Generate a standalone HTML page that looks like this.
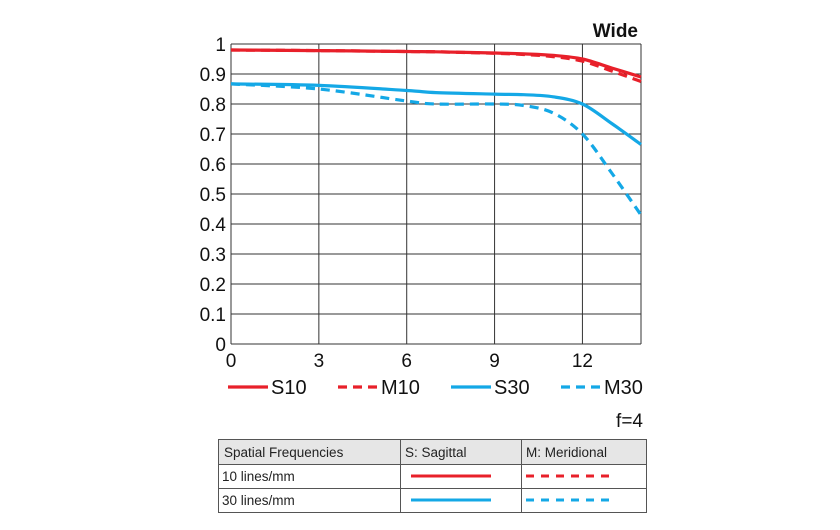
<!DOCTYPE html>
<html><head><meta charset="utf-8"><style>
body{margin:0;background:#fff;width:840px;height:530px;overflow:hidden;font-family:"Liberation Sans","DejaVu Sans",sans-serif}
svg{display:block}
</style></head><body>
<svg id="c" width="840" height="530"></svg>
<script>
const xTicks=[0,3,6,9,12];
const yTicks=[0,0.1,0.2,0.3,0.4,0.5,0.6,0.7,0.8,0.9,1];
const yLabels=["0","0.1","0.2","0.3","0.4","0.5","0.6","0.7","0.8","0.9","1"];
const xs=[0,3,6,7,9,10,11,12,13,14];
const s10=[0.98,0.978,0.975,0.974,0.97,0.967,0.962,0.95,0.92,0.89];
const m10=[0.98,0.978,0.975,0.974,0.969,0.965,0.958,0.943,0.91,0.875];
const s30=[0.867,0.862,0.845,0.838,0.833,0.831,0.824,0.8,0.735,0.665];
const m30=[0.867,0.85,0.81,0.8,0.8,0.795,0.77,0.7,0.57,0.43];
const L=231,R=641,T=44,B=344,XMAX=14;
const sx=v=>L+v*(R-L)/XMAX, sy=v=>B-v*(B-T);
const svg=document.getElementById('c');const NS='http://www.w3.org/2000/svg';
function mk(t,a,p){const e=document.createElementNS(NS,t);for(const k in a)e.setAttribute(k,a[k]);(p||svg).appendChild(e);return e;}
for(const t of xTicks.concat([XMAX])){const l=mk('line',{x1:sx(t),x2:sx(t),y1:T,y2:B,stroke:'#333','stroke-width':1});

}
yTicks.forEach((t,i)=>{const l=mk('line',{x1:L,x2:R,y1:sy(t),y2:sy(t),stroke:'#333','stroke-width':1});


const tx=mk('text',{x:L-5,y:sy(t)+7,'text-anchor':'end','font-size':19,fill:'#111'});tx.textContent=yLabels[i];

});
xTicks.forEach(t=>{const tx=mk('text',{x:sx(t),y:367,'text-anchor':'middle','font-size':19,fill:'#111'});tx.textContent=String(t);

});
function path(vals){const P=xs.map((x,i)=>[sx(x),sy(vals[i])]);let d='M'+P[0];
for(let i=0;i<P.length-1;i++){const p0=P[i-1]||P[i],p1=P[i],p2=P[i+1],p3=P[i+2]||p2;
d+=' C'+(p1[0]+(p2[0]-p0[0])/6)+','+(p1[1]+(p2[1]-p0[1])/6)+' '+(p2[0]-(p3[0]-p1[0])/6)+','+(p2[1]-(p3[1]-p1[1])/6)+' '+p2;}return d;}
const series=[[m10,'#e8202a',true,'series-m10'],[s10,'#e8202a',false,'series-s10'],[m30,'#14a8e6',true,'series-m30'],[s30,'#14a8e6',false,'series-s30']];
for(const [v,c,dash,n] of series){const p=mk('path',{d:path(v),fill:'none',stroke:c,'stroke-width':3.2,'stroke-dasharray':dash?'9,6':'none'});

}
const w=mk('text',{x:638,y:37,'text-anchor':'end','font-size':19,'font-weight':'bold',fill:'#111'});w.textContent='Wide';


const leg=[['S10','#e8202a',false,228],['M10','#e8202a',true,338],['S30','#14a8e6',false,451],['M30','#14a8e6',true,561]];
for(const [n,c,d,x] of leg){const l=mk('line',{x1:x,x2:x+40,y1:387,y2:387,stroke:c,'stroke-width':3.2,'stroke-dasharray':d?'9,6':'none'});


const t=mk('text',{x:x+43,y:394,'font-size':20,fill:'#111'});t.textContent=n;

}
const f=mk('text',{x:643,y:427,'text-anchor':'end','font-size':19,fill:'#111'});f.textContent='f=4';


const hb=mk('rect',{x:218,y:439,width:428,height:25,fill:'#e6e6e6'});


const tb=mk('rect',{x:218.5,y:439.5,width:428,height:73,fill:'none',stroke:'#555'});


for(const y of [464,488]){const l=mk('line',{x1:218,x2:646,y1:y+.5,y2:y+.5,stroke:'#555'});

}
for(const x of [400,521]){const l=mk('line',{x1:x+.5,x2:x+.5,y1:439,y2:512,stroke:'#555'});

}
const cells=[['Spatial Frequencies',224,457],['S: Sagittal',405,457],['M: Meridional',526,457],['10 lines/mm',222,481],['30 lines/mm',222,505]];
for(const [s,x,y] of cells){const t=mk('text',{x:x,y:y,'font-size':13.5,fill:'#222'});t.textContent=s;

}
for(const [c,y] of [['#e8202a',476],['#14a8e6',500]]){
const a=mk('line',{x1:411,x2:491,y1:y,y2:y,stroke:c,'stroke-width':3});


const b=mk('line',{x1:526,x2:612,y1:y,y2:y,stroke:c,'stroke-width':3,'stroke-dasharray':'8,7'});

}
</script>
</body></html>
